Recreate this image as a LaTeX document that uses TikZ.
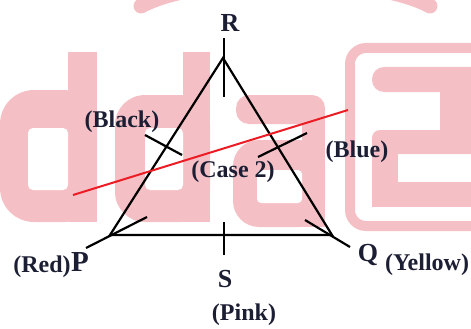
\documentclass[tikz,border=0pt]{standalone}
\usepackage{fontspec}
\setmainfont{Liberation Serif}
\usetikzlibrary{positioning}
\definecolor{wmpink}{RGB}{245,192,197}
\definecolor{labelink}{RGB}{28,30,52}
\definecolor{cutred}{RGB}{236,28,36}

\begin{document}
\begin{tikzpicture}[x=1pt, y=-1pt,
  wm/.style={fill=wmpink, draw=none},
  hole/.style={fill=white, draw=none},
  side/.style={line width=2.2pt, black, line join=miter},
  tick/.style={line width=2.2pt, black},
  cut/.style={line width=2pt, cutred},
  lbl/.style={font=\fontsize{24}{26}\selectfont\bfseries, text=labelink, inner sep=0pt},
  vtx/.style={lbl, font=\fontsize{26}{28}\selectfont\bfseries}]
\useasboundingbox (0,0) rectangle (471,329);
\begin{scope}
\clip (0,0) rectangle (471,329);
% watermark
\fill[wm] (68,52) rectangle (97,222);
\fill[wm, rounded corners=34] (0,90) rectangle (97,222);
\fill[hole, rounded corners=5] (28,128) rectangle (68,190);
\fill[wm] (183,52) rectangle (210,222);
\fill[wm, rounded corners=30] (115,95) rectangle (210,222);
\fill[hole, rounded corners=5] (145,128) rectangle (183,190);
\fill[wm, rounded corners=13] (236,95) rectangle (325,124);
\fill[wm] (302,110) rectangle (325,227);
\fill[wm, rounded corners=26] (233,140) rectangle (325,227);
\fill[hole, rounded corners=4] (257,170) rectangle (302,203);
\draw[wmpink, line width=10pt, rounded corners=16] (350,48) rectangle (520,226);
\fill[wm, rounded corners=12] (372,67) rectangle (490,92);
\fill[wm] (440,80) rectangle (490,150);
\fill[wm, rounded corners=8] (372,130) rectangle (490,154);
\fill[wm] (372,140) rectangle (398,207);
\fill[wm] (372,182) rectangle (490,207);
\draw[wmpink, line width=15pt, line cap=round] (141,6) .. controls (200,-26) and (371,-26) .. (430,6);
\end{scope}

\coordinate (R) at (223,58);
\coordinate (P) at (110,235);
\coordinate (Q) at (332,235);
\coordinate (rt1) at (224,38);
\coordinate (rt2) at (224,97);
\coordinate (st1) at (224,222);
\coordinate (st2) at (224,255);
\coordinate (pt1) at (86,248);
\coordinate (pt2) at (147,217);
\coordinate (qt1) at (305,220);
\coordinate (qt2) at (350,247);
\coordinate (bk1) at (145,135);
\coordinate (bk2) at (182,155);
\coordinate (bl1) at (258,157);
\coordinate (bl2) at (307,133);
\coordinate (cut1) at (73,195);
\coordinate (cut2) at (348,110);

\draw[side] (P) -- (Q) -- (R) -- cycle;
\draw[tick] (rt1) -- (rt2);
\draw[tick] (st1) -- (st2);
\draw[tick] (pt1) -- (pt2);
\draw[tick] (qt1) -- (qt2);
\draw[tick] (bk1) -- (bk2);
\draw[tick] (bl1) -- (bl2);
\draw[cut] (cut1) -- (cut2);

\node[vtx] (rlbl) at (230,23) {R};
\node[vtx] (slbl) at (225,279) {S};
\node[lbl] (pink) at (244,315) {(Pink)};
\node[vtx, font=\fontsize{29}{31}\selectfont\bfseries] (plbl) at (80,262) {P};
\node[lbl, anchor=base east] (red) at ([yshift=-1pt]plbl.base west) {(Red)};
\node[vtx] (qlbl) at (368,255) {Q};
\node[lbl] (yellow) at (427,265) {(Yellow)};
\node[lbl] (black) at (122,122) {(Black)};
\node[lbl] (blue) at (357,152) {(Blue)};
\node[lbl] (case) at (233,172) {(Case 2)};
\end{tikzpicture}
\end{document}
